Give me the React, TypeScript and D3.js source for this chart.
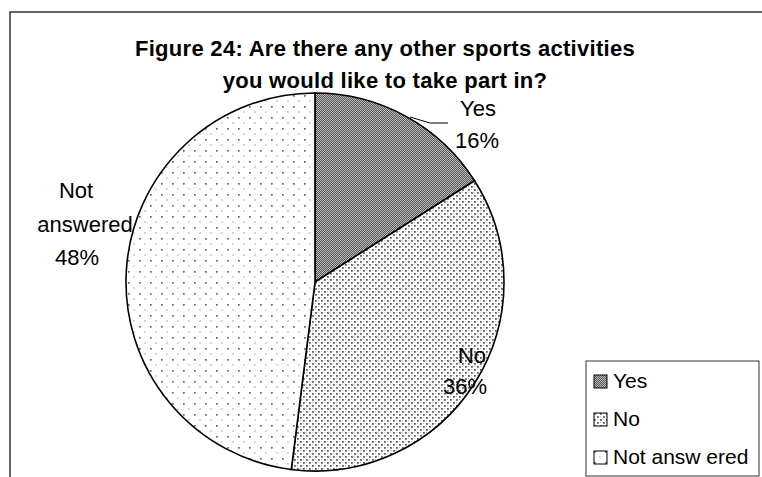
import React from "react";
import * as d3 from "d3";

const categories = ["Yes", "No", "Not answered"];
const values = [16, 36, 48];
const legendLabels = ["Yes", "No", "Not answ ered"];
const titleLines = [
  "Figure 24: Are there any other sports activities",
  "you would like to take part in?",
];

const W = 762;
const H = 477;
const cx = 315;
const cy = 282;
const R = 189;
const font = "'Liberation Sans', Arial, sans-serif";

export default function App() {
  const pie = d3.pie<number>().sort(null).value((d) => d);
  const arcs = pie(values);
  const arc = d3.arc<d3.PieArcDatum<number>>().innerRadius(0).outerRadius(R);
  const fills = ["url(#pYes)", "url(#pNo)", "url(#pNA)"];

  return (
    <div style={{ position: "fixed", left: 0, top: 0 }}>
      <svg width={W} height={H} style={{ display: "block", background: "#fff" }}>
        <defs>
          <pattern id="pYes" width="2" height="2" patternUnits="userSpaceOnUse">
            <rect width="2" height="2" fill="#bdbdbd" />
            <rect x="0" y="0" width="1" height="1" fill="#555" />
            <rect x="1" y="1" width="1" height="1" fill="#555" />
          </pattern>
          <pattern id="pNo" width="6" height="6" patternUnits="userSpaceOnUse">
            <rect width="6" height="6" fill="#fff" />
            <rect x="0" y="0" width="1.8" height="1.8" fill="#5e5e5e" />
            <rect x="3" y="3" width="1.8" height="1.8" fill="#5e5e5e" />
            <rect x="3" y="0" width="1" height="1" fill="#b8b8b8" />
            <rect x="0" y="3" width="1" height="1" fill="#b8b8b8" />
          </pattern>
          <pattern id="pNA" width="11" height="11" patternUnits="userSpaceOnUse">
            <rect width="11" height="11" fill="#fff" />
            <rect x="0" y="0" width="1.7" height="1.7" fill="#666" />
            <rect x="5" y="5.5" width="2" height="1" fill="#b0b0b0" />
          </pattern>
        </defs>

        {/* outer frame */}
        <rect x={10} y={12} width={W + 20} height={H + 20} fill="none" stroke="#333" strokeWidth={1.5} />

        {/* title */}
        {titleLines.map((t, i) => (
          <text
            key={i}
            x={385}
            y={56 + i * 32}
            textAnchor="middle"
            fontFamily={font}
            fontWeight="bold"
            fontSize={22}
            letterSpacing={0.3}
            fill="#000"
          >
            {t}
          </text>
        ))}

        {/* pie */}
        <g transform={`translate(${cx},${cy})`}>
          {arcs.map((a, i) => (
            <path key={i} d={arc(a) || ""} fill={fills[i]} stroke="#000" strokeWidth={1.6} />
          ))}
        </g>

        {/* leader line */}
        <polyline
          points={`410,117 430,123 448,123`}
          fill="none"
          stroke="#000"
          strokeWidth={1}
        />

        {/* data labels */}
        <g fontFamily={font} fontSize={22} fill="#000" textAnchor="middle">
          <text x={478} y={116}>{categories[0]}</text>
          <text x={477} y={148}>{values[0]}%</text>
          <text x={472} y={363}>{categories[1]}</text>
          <text x={465} y={394}>{values[1]}%</text>
          <text x={76} y={198}>Not</text>
          <text x={85} y={232}>answered</text>
          <text x={77} y={265}>{values[2]}%</text>
        </g>

        {/* legend */}
        <rect x={586} y={361} width={173} height={115} fill="#fff" stroke="#333" strokeWidth={1} />
        {legendLabels.map((l, i) => (
          <g key={i} transform={`translate(594,${375 + i * 38})`}>
            <rect x={0} y={0} width={13} height={13} fill={fills[i]} stroke="#000" strokeWidth={1} />
            <text x={19} y={13} fontFamily={font} fontSize={21} fill="#000">
              {l}
            </text>
          </g>
        ))}
      </svg>
    </div>
  );
}
